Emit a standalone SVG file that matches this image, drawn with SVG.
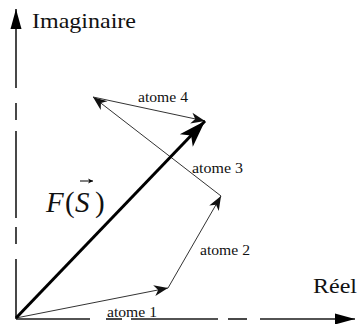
<svg xmlns="http://www.w3.org/2000/svg" width="358" height="324" viewBox="0 0 358 324">
<style>
.ax{stroke:#1a1a1a;stroke-width:1.6;fill:none}
.v{stroke:#333;stroke-width:1;fill:none}
.big{stroke:#000;stroke-width:3;fill:none}
.lbl{font-family:"Liberation Serif","Times New Roman",serif;font-size:14px;fill:#111}
.ttl{font-family:"Liberation Serif","Times New Roman",serif;fill:#111}
</style>
<defs>
<marker id="axh" markerUnits="userSpaceOnUse" markerWidth="24" markerHeight="14" refX="20" refY="6" orient="auto" viewBox="0 0 24 14">
<path d="M20,6 L0,0.5 L0,11.5 Z" fill="#000"/>
</marker>
<marker id="ah" markerUnits="userSpaceOnUse" markerWidth="16" markerHeight="14" refX="15" refY="7" orient="auto" viewBox="0 0 16 14">
<path d="M15,7 L1,1.5 L5,7 L1,12.5 Z" fill="#111"/>
</marker>
<marker id="bh" markerUnits="userSpaceOnUse" markerWidth="30" markerHeight="22" refX="28" refY="11" orient="auto" viewBox="0 0 30 22">
<path d="M28,11 L1,2 L8,11 L1,20 Z" fill="#000"/>
</marker>
<marker id="sh" markerUnits="userSpaceOnUse" markerWidth="6" markerHeight="6" refX="5" refY="3" orient="auto" viewBox="0 0 6 6">
<path d="M5,3 L0,0.5 L1.5,3 L0,5.5 Z" fill="#000"/>
</marker>
</defs>
<g id="axes">
<line class="ax" x1="16" y1="88" x2="16" y2="9" marker-end="url(#axh)"/>
<line class="ax" x1="16" y1="103" x2="16" y2="120"/>
<line class="ax" x1="16" y1="131" x2="16" y2="218"/>
<line class="ax" x1="16" y1="227" x2="16" y2="244"/>
<line class="ax" x1="16" y1="259" x2="16" y2="319"/>
<line class="ax" x1="16" y1="319" x2="90" y2="319"/>
<line class="ax" x1="106" y1="319" x2="122" y2="319"/>
<line class="ax" x1="131" y1="319" x2="218" y2="319"/>
<line class="ax" x1="228" y1="319" x2="247" y2="319"/>
<line class="ax" x1="260" y1="319" x2="355" y2="319" marker-end="url(#axh)"/>
<text class="ttl" x="32" y="28" font-size="22" textLength="104" lengthAdjust="spacingAndGlyphs">Imaginaire</text>
<text class="ttl" x="313" y="293" font-size="20" textLength="44" lengthAdjust="spacingAndGlyphs">Réel</text>
</g>
<g id="connectors">
<line id="atome1" class="v" x1="16" y1="318" x2="168" y2="288" marker-end="url(#ah)"/>
<line id="atome2" class="v" x1="168" y1="288" x2="221" y2="196" marker-end="url(#ah)"/>
<line id="atome3" class="v" x1="221" y1="196" x2="93" y2="97" marker-end="url(#ah)"/>
<line id="atome4" class="v" x1="93" y1="97" x2="205" y2="121" marker-end="url(#ah)"/>
<line id="FS" class="big" x1="16" y1="318" x2="205" y2="121" marker-end="url(#bh)"/>
</g>
<g id="labels">
<text class="lbl" x="138" y="102" textLength="50" lengthAdjust="spacingAndGlyphs">atome 4</text>
<text class="lbl" x="192" y="173" textLength="51" lengthAdjust="spacingAndGlyphs">atome 3</text>
<text class="lbl" x="200" y="255" textLength="50" lengthAdjust="spacingAndGlyphs">atome 2</text>
<text class="lbl" x="107" y="317" textLength="50" lengthAdjust="spacingAndGlyphs">atome 1</text>
</g>
<g id="FS-label">
<text class="ttl" x="46" y="212" font-size="29"><tspan font-style="italic">F</tspan><tspan x="65">(</tspan><tspan x="75" font-style="italic">S</tspan><tspan x="95">)</tspan></text>
<line x1="80" y1="181" x2="93" y2="181" stroke="#000" stroke-width="1" marker-end="url(#sh)"/>
</g>
</svg>
